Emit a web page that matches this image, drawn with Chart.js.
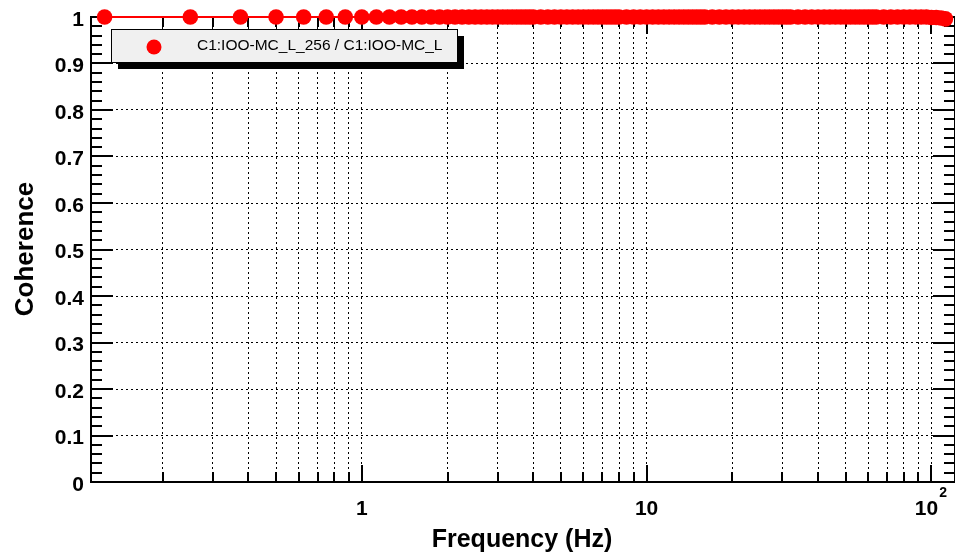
<!DOCTYPE html>
<html>
<head>
<meta charset="utf-8">
<script src="https://cdn.jsdelivr.net/npm/chart.js@4.4.1/dist/chart.umd.min.js"></script>
<style>
    html, body { margin: 0; padding: 0; background: #fff; }
    #wrap { width: 955px; height: 558px; }
</style>
</head>
<body>
<div id="wrap"><canvas id="chart" width="955" height="558"></canvas></div>
<script>
// Data (frequency bins in Hz, coherence)
const frequencies = [
    0.125, 0.25, 0.375, 0.5, 0.625, 0.75, 0.875, 1,
    1.125, 1.25, 1.375, 1.5, 1.625, 1.75, 1.875, 2,
    2.125, 2.25, 2.375, 2.5, 2.625, 2.75, 2.875, 3,
    3.125, 3.25, 3.375, 3.5, 3.625, 3.75, 3.875, 4,
    4.25, 4.5, 4.75, 5, 5.25, 5.5, 5.75, 6,
    6.25, 6.5, 6.75, 7, 7.25, 7.5, 7.75, 8,
    8.5, 9, 9.5, 10, 10.5, 11, 11.5, 12,
    12.5, 13, 13.5, 14, 14.5, 15, 15.5, 16,
    17, 18, 19, 20, 21, 22, 23, 24,
    25, 26, 27, 28, 29, 30, 31, 32,
    34, 36, 38, 40, 42, 44, 46, 48,
    50, 52, 54, 56, 58, 60, 62, 64,
    68, 72, 76, 80, 84, 88, 92, 96,
    100, 104, 108, 112
];
const coherence = [
    1, 1, 1, 1, 1, 1, 1, 1,
    1, 1, 1, 1, 1, 1, 1, 1,
    1, 1, 1, 1, 1, 1, 1, 1,
    1, 1, 1, 1, 1, 1, 1, 1,
    1, 1, 1, 1, 1, 1, 1, 1,
    1, 1, 1, 1, 1, 1, 1, 1,
    1, 1, 1, 1, 1, 1, 1, 1,
    1, 1, 1, 1, 1, 1, 1, 1,
    1, 1, 1, 1, 1, 1, 1, 1,
    1, 1, 1, 1, 1, 1, 1, 1,
    1, 1, 1, 1, 1, 1, 1, 1,
    1, 1, 1, 1, 1, 1, 1, 1,
    1, 1, 1, 1, 1, 1, 1, 1,
    0.999, 0.999, 0.998, 0.996
];
const seriesLabel = 'C1:IOO-MC_L_256 / C1:IOO-MC_L';

// Axis ticks
const xGridValues = [
    0.2, 0.3, 0.4, 0.5, 0.6, 0.7, 0.8, 0.9,
    1, 2, 3, 4, 5, 6, 7, 8, 9,
    10, 20, 30, 40, 50, 60, 70, 80, 90, 100
];
const xMajorValues = [1, 10, 100];
const xLabels = ['1', '10', '10|2'];
const yMajorValues = [0, 0.1, 0.2, 0.3, 0.4, 0.5, 0.6, 0.7, 0.8, 0.9, 1];
const yLabels = ['0', '0.1', '0.2', '0.3', '0.4', '0.5', '0.6', '0.7', '0.8', '0.9', '1'];

const FONT = '"Liberation Sans", Arial, Helvetica, sans-serif';

// ROOT-like frame: solid box with inward ticks on all four sides
const rootFrame = {
    id: 'rootFrame',
    beforeDatasetsDraw(chart) {
        const { ctx, chartArea: a, scales: { x, y } } = chart;
        ctx.save();
        ctx.strokeStyle = '#000';
        ctx.lineWidth = 2;
        ctx.strokeRect(a.left, a.top, a.right - a.left, a.bottom - a.top);

        ctx.beginPath();
        // y ticks, minor every 0.02
        for (let k = 0; k <= 50; k++) {
            const py = Math.round(y.getPixelForValue(k * 0.02));
            const len = k % 5 === 0 ? 22 : 11;
            ctx.moveTo(a.left, py); ctx.lineTo(a.left + len, py);
            ctx.moveTo(a.right, py); ctx.lineTo(a.right - len, py);
        }
        // x ticks
        xGridValues.forEach(v => {
            const px = Math.round(x.getPixelForValue(v));
            const len = xMajorValues.includes(v) ? 17 : 10;
            ctx.moveTo(px, a.bottom); ctx.lineTo(px, a.bottom - len);
            ctx.moveTo(px, a.top); ctx.lineTo(px, a.top + len);
        });
        ctx.stroke();
        ctx.restore();
    },
    afterDraw(chart) {
        const { ctx, scales: { x, y } } = chart;
        ctx.save();
        ctx.fillStyle = '#000';

        // y labels
        ctx.font = 'bold 21px ' + FONT;
        ctx.textAlign = 'right';
        ctx.textBaseline = 'middle';
        yMajorValues.forEach((v, i) => {
            ctx.fillText(yLabels[i], 84, y.getPixelForValue(v) + 3);
        });

        // x labels (with superscript exponent)
        xMajorValues.forEach((v, i) => {
            const px = x.getPixelForValue(v);
            const [base, exp] = xLabels[i].split('|');
            ctx.font = 'bold 21px ' + FONT;
            ctx.textBaseline = 'alphabetic';
            if (exp) {
                const wb = ctx.measureText(base).width;
                ctx.font = 'bold 14px ' + FONT;
                const we = ctx.measureText(exp).width;
                const left = px - (wb + we) / 2 - 1;
                ctx.textAlign = 'left';
                ctx.font = 'bold 21px ' + FONT;
                ctx.fillText(base, left, 515);
                ctx.font = 'bold 14px ' + FONT;
                ctx.fillText(exp, left + wb + 1, 497);
            } else {
                ctx.textAlign = 'center';
                ctx.fillText(base, px, 515);
            }
        });

        // axis titles
        ctx.font = 'bold 25px ' + FONT;
        ctx.textAlign = 'center';
        ctx.textBaseline = 'alphabetic';
        ctx.fillText('Frequency (Hz)', 522, 547);

        ctx.font = 'bold 26px ' + FONT;
        ctx.translate(33, 249);
        ctx.rotate(-Math.PI / 2);
        ctx.fillText('Coherence', 0, 0);
        ctx.setTransform(1, 0, 0, 1, 0, 0);

        // legend box with shadow
        ctx.fillStyle = '#000';
        ctx.fillRect(118, 36, 346, 33);
        ctx.fillStyle = '#f0f0f0';
        ctx.fillRect(111, 29, 346, 33);
        ctx.strokeStyle = '#000';
        ctx.lineWidth = 1;
        ctx.strokeRect(111.5, 29.5, 346, 33);

        ctx.fillStyle = '#ff0000';
        ctx.beginPath();
        ctx.arc(154, 47, 7.5, 0, Math.PI * 2);
        ctx.fill();

        ctx.fillStyle = '#000';
        ctx.font = '15.5px ' + FONT;
        ctx.textAlign = 'left';
        ctx.textBaseline = 'middle';
        ctx.fillText(seriesLabel, 197, 46);
        ctx.restore();
    }
};

const gridStyle = { color: '#000', lineWidth: 1, drawTicks: false };
const dotted = { display: false, dash: [2, 3] };

new Chart(document.getElementById('chart').getContext('2d'), {
    type: 'line',
    data: {
        datasets: [{
            label: seriesLabel,
            data: frequencies.map((f, i) => ({ x: f, y: coherence[i] })),
            borderColor: '#ff0000',
            backgroundColor: '#ff0000',
            borderWidth: 2,
            pointRadius: 7.8,
            pointHoverRadius: 7.8,
            pointBorderWidth: 0,
            tension: 0,
            clip: false
        }]
    },
    options: {
        responsive: false,
        animation: false,
        events: [],
        layout: { autoPadding: false, padding: { left: 91, right: 0, top: 17, bottom: 76 } },
        plugins: {
            legend: { display: false },
            tooltip: { enabled: false }
        },
        scales: {
            x: {
                type: 'logarithmic',
                min: 0.112,
                max: 121,
                afterBuildTicks: s => { s.ticks = xGridValues.map(v => ({ value: v })); },
                ticks: { display: false },
                grid: gridStyle,
                border: dotted
            },
            y: {
                min: 0,
                max: 1,
                afterBuildTicks: s => { s.ticks = yMajorValues.map(v => ({ value: v })); },
                ticks: { display: false },
                grid: gridStyle,
                border: dotted
            }
        }
    },
    plugins: [rootFrame]
});
</script>
</body>
</html>
